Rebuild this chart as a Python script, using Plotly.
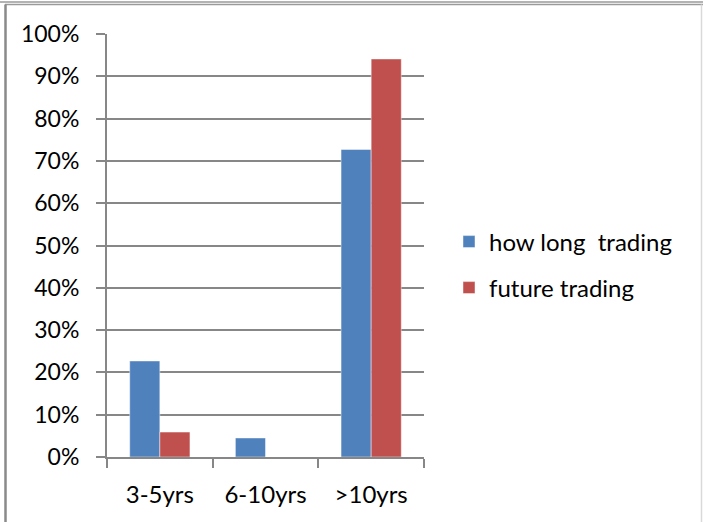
import plotly.graph_objects as go

categories = ["3-5yrs", "6-10yrs", ">10yrs"]
how_long_trading = [0.227, 0.045, 0.727]
future_trading = [0.059, 0.0, 0.941]
series_names = ["how long  trading", "future trading"]

W, H = 703, 522
L, R, T, B = 107, 424, 34, 457  # plot area in pixels


def px(x):
    return (x - L) / (R - L)


def py(y):
    return (B - y) / (B - T)


FONT = "Lato"
FS = 23
GRID = "#878787"

fig = go.Figure()
fig.add_trace(go.Bar(
    x=categories, y=how_long_trading, name=series_names[0],
    marker=dict(color="#4F81BD", line=dict(color="rgba(255,255,255,0.45)", width=1)),
    legend="legend", showlegend=True,
))
fig.add_trace(go.Bar(
    x=categories, y=future_trading, name=series_names[1],
    marker=dict(color="#C0504D", line=dict(color="rgba(255,255,255,0.45)", width=1)),
    legend="legend2", showlegend=True,
))

legend_common = dict(
    font=dict(family=FONT, size=24, color="#000000"),
    bgcolor="rgba(0,0,0,0)", itemwidth=30,
    xanchor="left", yanchor="middle", tracegroupgap=0,
    visible=True,
)

fig.update_layout(
    width=W, height=H,
    margin=dict(l=L, r=W - R, t=T, b=H - B),
    paper_bgcolor="white", plot_bgcolor="white",
    showlegend=True,
    barmode="group", bargap=0.43, bargroupgap=0,
    font=dict(family=FONT, size=FS, color="#000000"),
    legend=dict(x=px(449), y=py(242), **legend_common),
    legend2=dict(x=px(449), y=py(288), **legend_common),
    xaxis=dict(
        showline=True, linecolor=GRID, linewidth=2,
        ticks="outside", ticklen=9, tickwidth=2, tickcolor=GRID,
        tickson="boundaries", showgrid=False,
        tickfont=dict(family=FONT, size=24),
        ticklabelstandoff=15,
    ),
    yaxis=dict(
        range=[0, 1], dtick=0.1, tickformat=".0%",
        showline=True, linecolor=GRID, linewidth=2,
        showgrid=True, gridcolor=GRID, gridwidth=2,
        ticks="outside", ticklen=9, tickwidth=2, tickcolor=GRID,
        tickfont=dict(family=FONT, size=FS),
        ticklabelstandoff=12, zeroline=False,
    ),
)

# chart frame around the whole figure
frame = [
    dict(x0=px(0), x1=px(703), y0=py(2), y1=py(2), color="#9a9a9a", width=1.5),
    dict(x0=px(5), x1=px(703), y0=py(4.5), y1=py(4.5), color="#9a9a9a", width=1.5),
    dict(x0=px(5.5), x1=px(5.5), y0=py(4.5), y1=py(522), color="#8a8a8a", width=2.5),
    dict(x0=px(701.5), x1=px(701.5), y0=py(4.5), y1=py(522), color="#d9d9d9", width=1.5),
]
for f in frame:
    fig.add_shape(type="line", xref="paper", yref="paper",
                  x0=f["x0"], x1=f["x1"], y0=f["y0"], y1=f["y1"],
                  line=dict(color=f["color"], width=f["width"]))

fig.write_html("out.html")
